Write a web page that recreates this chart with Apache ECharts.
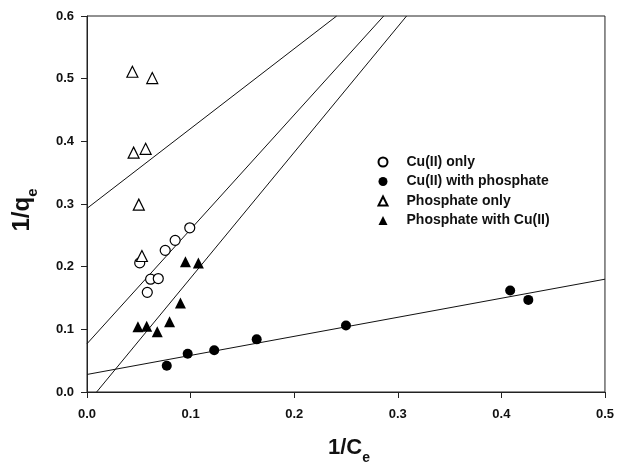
<!DOCTYPE html>
<html><head><meta charset="utf-8">
<script src="https://cdn.jsdelivr.net/npm/echarts@6/dist/echarts.min.js"></script>
<style>html,body{margin:0;padding:0;background:#fff}#c{width:617px;height:463px}</style>
</head><body><div id="c"></div>
<script>
// Data: [1/Ce, 1/qe]
var cuOnly = [[0.0509,0.206],[0.0614,0.180],[0.0688,0.181],[0.0582,0.159],[0.0755,0.226],[0.0851,0.242],[0.0992,0.262]];
var cuWithPhosphate = [[0.077,0.042],[0.0972,0.061],[0.1228,0.0665],[0.1638,0.084],[0.25,0.106],[0.4085,0.162],[0.426,0.147]];
var phosphateOnly = [[0.0438,0.511],[0.063,0.501],[0.045,0.382],[0.0566,0.388],[0.050,0.299],[0.053,0.217]];
var phosphateWithCu = [[0.0492,0.104],[0.0576,0.105],[0.0678,0.096],[0.0797,0.112],[0.0902,0.142],[0.095,0.208],[0.1075,0.206]];
// Fitted line endpoints
var linePhosphateOnly = [[0,0.293],[0.241,0.6]];
var lineCuOnly = [[0,0.077],[0.2864,0.6]];
var linePhosphateWithCu = [[0.0093,0],[0.3085,0.6]];
var lineCuWithPhosphate = [[0,0.028],[0.5,0.180]];
var xTicks = [0,0.1,0.2,0.3,0.4,0.5];
var yTicks = [0,0.1,0.2,0.3,0.4,0.5,0.6];
var seriesNames = ['Cu(II) only','Cu(II) with phosphate','Phosphate only','Phosphate with Cu(II)'];
var xTitle = ['1/C','e'];
var yTitle = ['1/q','e'];

var font = 'Liberation Sans, Arial, sans-serif';
var chart = echarts.init(document.getElementById('c'), null, {renderer:'canvas'});
function lineSeries(d){
  return {type:'line', data:d, symbol:'none', silent:true, z:1,
    lineStyle:{color:'#111', width:1}, animation:false};
}
function scatter(name, d, symbol, filled){
  return {type:'scatter', name:name, data:d, symbol:symbol, symbolSize: symbol==='circle'?10:11, z:3,
    itemStyle:{color: filled?'#000':'#fff', borderColor:'#000', borderWidth: filled?0:1.2, opacity:1}};
}
var axisCommon = {
  axisLine:{show:true, onZero:false, lineStyle:{color:'#222', width:1}},
  axisTick:{show:true, inside:false, length:6, lineStyle:{color:'#222'}},
  splitLine:{show:false},
  axisLabel:{fontFamily:font, fontWeight:'bold', fontSize:13, color:'#111',
    formatter:function(v){return v.toFixed(1);}}
};
function titleRich(big, small){
  return {
    a:{fontFamily:font, fontWeight:'bold', fontSize:big, lineHeight:big+2, fill:'#111', verticalAlign:'top'},
    b:{fontFamily:font, fontWeight:'bold', fontSize:small, lineHeight:small-2, fill:'#111', verticalAlign:'top', padding:[Math.round(big*0.64),0,0,0]}
  };
}
chart.setOption({
  animation:false,
  backgroundColor:'#fff',
  grid:{left:87, top:16, width:521, height:376, show:true, borderColor:'#222', borderWidth:1, containLabel:false},
  legend:{
    data: seriesNames.map(function(n){return {name:n};}),
    orient:'vertical', left:377.5, top:155, padding:0, itemGap:5.5, itemWidth:9, itemHeight:9,
    textStyle:{fontFamily:font, fontWeight:'bold', fontSize:14, color:'#111', padding:[0,0,0,14]},
    selectedMode:false
  },
  xAxis: Object.assign({}, axisCommon, {
    type:'value', min:xTicks[0], max:xTicks[xTicks.length-1], interval:0.1,
    axisLabel: Object.assign({}, axisCommon.axisLabel, {margin:16})
  }),
  yAxis: Object.assign({}, axisCommon, {
    type:'value', min:yTicks[0], max:yTicks[yTicks.length-1], interval:0.1,
    axisLabel: Object.assign({}, axisCommon.axisLabel, {margin:13})
  }),
  graphic:[
    {type:'text', x:349, y:437, style:{text:'{a|'+xTitle[0]+'}{b|'+xTitle[1]+'}', rich:titleRich(22,14), align:'center', verticalAlign:'top'}},
    {type:'text', x:10, y:210, rotation:Math.PI/2, style:{text:'{a|'+yTitle[0]+'}{b|'+yTitle[1]+'}', rich:titleRich(24,15), align:'center', verticalAlign:'top'}}
  ],
  series:[
    lineSeries(linePhosphateOnly),
    lineSeries(lineCuOnly),
    lineSeries(linePhosphateWithCu),
    lineSeries(lineCuWithPhosphate),
    scatter(seriesNames[0], cuOnly, 'circle', false),
    scatter(seriesNames[1], cuWithPhosphate, 'circle', true),
    scatter(seriesNames[2], phosphateOnly, 'triangle', false),
    scatter(seriesNames[3], phosphateWithCu, 'triangle', true)
  ]
});
</script></body></html>
